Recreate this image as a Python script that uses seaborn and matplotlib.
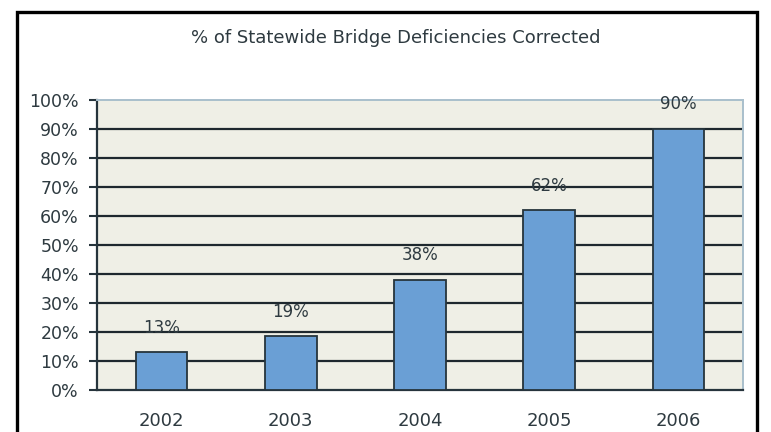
import matplotlib
matplotlib.use("Agg")
import matplotlib.pyplot as plt
from matplotlib.patches import Rectangle
import seaborn as sns
import pandas as pd

years = ["2002", "2003", "2004", "2005", "2006"]
values = [13, 18.5, 38, 62, 90]
value_labels = ["13%", "19%", "38%", "62%", "90%"]
y_ticks = [0, 10, 20, 30, 40, 50, 60, 70, 80, 90, 100]
y_tick_labels = [f"{v}%" for v in y_ticks]
title = "% of Statewide Bridge Deficiencies Corrected"

sns.set_theme(style="white")
plt.rcParams['font.family'] = ['DejaVu Sans']

text_color = "#2E3A40"
df = pd.DataFrame({"year": years, "value": values})

fig = plt.figure(figsize=(7.71, 4.32), dpi=100)
fig.patch.set_facecolor("white")
ax = fig.add_axes([97/771, 1 - 390/432, (743 - 97)/771, (390 - 100)/432])
ax.set_facecolor("#EFEFE6")

sns.barplot(data=df, x="year", y="value", color="#6A9FD5", width=0.4,
            edgecolor="#26343C", linewidth=1.3, saturation=1, ax=ax, zorder=3)

ax.set_xlim(-0.5, 4.5)
ax.set_ylim(0, 100)
ax.set_yticks(y_ticks)
ax.set_yticklabels(y_tick_labels, fontsize=12.5, color=text_color)
ax.set_xticks(range(len(years)))
ax.set_xticklabels(years, fontsize=13, color=text_color)
ax.set_xticks([i - 0.5 for i in range(len(years) + 1)], minor=True)
ax.tick_params(axis="x", which="major", length=0, pad=16)
ax.tick_params(axis="x", which="minor", length=7, width=1.5, color="#26343C", direction="out")
ax.tick_params(axis="y", which="major", length=6, width=1.5, color="#26343C", direction="out", pad=7, left=True)
ax.set_xlabel("")
ax.set_ylabel("")

for yv in y_ticks[1:-1]:
    ax.axhline(yv, color="#1E282E", lw=1.6, zorder=1)

for s in ["left", "bottom"]:
    ax.spines[s].set_color("#26343C")
    ax.spines[s].set_linewidth(1.6)
for s in ["top", "right"]:
    ax.spines[s].set_color("#A9BFCC")
    ax.spines[s].set_linewidth(1.4)

for i, (v, lab) in enumerate(zip(values, value_labels)):
    ax.text(i, v + 8.5, lab, ha="center", va="center", fontsize=12, color=text_color, zorder=4)

fig.text(396/771, 1 - 38/432, title, ha="center", va="center", fontsize=13, color=text_color)

fig.patches.append(Rectangle((17/771, -0.1), (757 - 17)/771, 1.1 - 12/432,
                             transform=fig.transFigure, fill=False,
                             edgecolor="black", linewidth=2.4))

fig.savefig("out.png", dpi=100)
